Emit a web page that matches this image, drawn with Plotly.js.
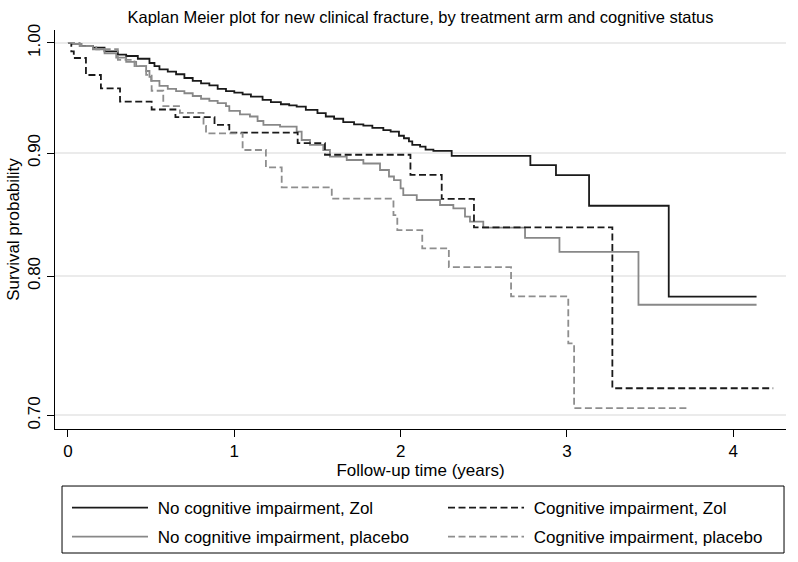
<!DOCTYPE html>
<html>
<head>
<meta charset="utf-8">
<script src="https://cdn.plot.ly/plotly-3.0.1.min.js"></script>
<style>
  body { margin: 0; background: #fff; }
  #kmPlot { width: 798px; height: 562px; }
</style>
</head>
<body>
<div id="kmPlot"></div>
<script>
// No cognitive impairment, Zol
var tNoCiZol = [0, 0.03, 0.08, 0.15, 0.22, 0.30, 0.35, 0.42, 0.49, 0.52, 0.55, 0.60, 0.65, 0.70, 0.75, 0.80, 0.85, 0.90, 0.95,
  1.00, 1.05, 1.10, 1.17, 1.22, 1.28, 1.33, 1.375, 1.43, 1.50, 1.55, 1.60, 1.655, 1.72, 1.776, 1.83, 1.896, 1.94, 1.99,
  2.02, 2.05, 2.07, 2.117, 2.15, 2.197, 2.307, 2.78, 2.934, 3.133, 3.612, 4.14];
var sNoCiZol = [1.000, 0.999, 0.997, 0.9955, 0.992, 0.989, 0.9876, 0.985, 0.981, 0.978, 0.975, 0.973, 0.9705, 0.967, 0.9643, 0.962, 0.9603, 0.957, 0.955,
  0.9535, 0.952, 0.950, 0.947, 0.945, 0.943, 0.942, 0.9408, 0.938, 0.935, 0.932, 0.930, 0.927, 0.925, 0.924, 0.922, 0.920, 0.9186, 0.915,
  0.9128, 0.910, 0.907, 0.9055, 0.903, 0.9019, 0.8975, 0.8897, 0.8812, 0.8557, 0.7844, 0.7844];

// No cognitive impairment, placebo
var tNoCiPla = [0, 0.03, 0.08, 0.15, 0.22, 0.29, 0.35, 0.41, 0.47, 0.49, 0.50, 0.55, 0.60, 0.65, 0.70, 0.75, 0.80, 0.85, 0.90, 0.95,
  0.97, 1.034, 1.094, 1.14, 1.175, 1.275, 1.375, 1.405, 1.455, 1.535, 1.575, 1.676, 1.776, 1.876, 1.93, 1.96, 2.00,
  2.016, 2.097, 2.237, 2.317, 2.387, 2.417, 2.497, 2.748, 2.955, 3.43, 4.14];
var sNoCiPla = [1.000, 0.999, 0.997, 0.994, 0.990, 0.986, 0.982, 0.978, 0.9735, 0.968, 0.9643, 0.9597, 0.957, 0.955, 0.953, 0.9505, 0.948, 0.946, 0.944, 0.9414,
  0.937, 0.934, 0.932, 0.928, 0.9245, 0.923, 0.9186, 0.9113, 0.907, 0.9026, 0.8969, 0.894, 0.891, 0.8855, 0.880, 0.877, 0.870,
  0.8645, 0.8604, 0.8563, 0.8536, 0.8468, 0.8427, 0.838, 0.8297, 0.8187, 0.7783, 0.7783];

// Cognitive impairment, Zol
var tCiZol = [0, 0.02, 0.035, 0.108, 0.198, 0.313, 0.503, 0.646, 0.881, 0.970, 1.381, 1.545, 2.059, 2.247, 2.441, 3.273, 4.24];
var sCiZol = [1.000, 0.992, 0.9857, 0.9698, 0.9575, 0.9453, 0.9383, 0.9314, 0.9245, 0.9177, 0.9085, 0.8985, 0.8813, 0.8614, 0.8381, 0.7185, 0.7185];

// Cognitive impairment, placebo
var tCiPla = [0, 0.07, 0.17, 0.30, 0.40, 0.47, 0.503, 0.573, 0.673, 0.815, 0.83, 1.05, 1.19, 1.285, 1.586, 1.957, 1.98,
  2.13, 2.29, 2.664, 3.008, 3.043, 3.72];
var sCiPla = [1.000, 0.997, 0.994, 0.984, 0.978, 0.970, 0.9553, 0.9414, 0.9352, 0.9236, 0.917, 0.9026, 0.8877, 0.8709, 0.8615, 0.848, 0.836,
  0.8215, 0.8069, 0.7846, 0.7500, 0.705, 0.705];

var yTicks = [0.70, 0.80, 0.90, 1.00];
var yTickText = ['0.70', '0.80', '0.90', '1.00'];
var xTicks = [0, 1, 2, 3, 4];

var fnt = 'Liberation Sans, Arial, Helvetica, sans-serif';
var dashPat = '7px,3.5px';
var pad = '\u00a0';   // small gap between legend line and its label

// left legend column = no impairment, right column = impairment
var trace1 = {
  x: tNoCiZol, y: sNoCiZol, type: 'scatter', mode: 'lines',
  name: pad + 'No cognitive impairment, Zol',
  legend: 'legend', legendgroup: 'a', legendrank: 1,
  line: {shape: 'hv', color: '#1a1a1a', width: 1.8}
};
var trace3 = {
  x: tNoCiPla, y: sNoCiPla, type: 'scatter', mode: 'lines',
  name: pad + 'No cognitive impairment, placebo',
  legend: 'legend', legendgroup: 'b', legendrank: 2,
  line: {shape: 'hv', color: '#888888', width: 1.8}
};
var trace2 = {
  x: tCiZol, y: sCiZol, type: 'scatter', mode: 'lines',
  name: pad + 'Cognitive impairment, Zol',
  legend: 'legend2', legendgroup: 'c', legendrank: 1,
  line: {shape: 'hv', color: '#1a1a1a', width: 1.8, dash: dashPat}
};
var trace4 = {
  x: tCiPla, y: sCiPla, type: 'scatter', mode: 'lines',
  name: pad + 'Cognitive impairment, placebo',
  legend: 'legend2', legendgroup: 'd', legendrank: 2,
  line: {shape: 'hv', color: '#8e8e8e', width: 1.8, dash: dashPat}
};

var data = [trace1, trace3, trace2, trace4];

var legendBase = {
  orientation: 'v',
  traceorder: 'grouped',
  tracegroupgap: 4,
  itemwidth: 76,
  yref: 'container',
  y: 0.1281, yanchor: 'top',
  xanchor: 'left',
  bgcolor: 'rgba(0,0,0,0)',
  borderwidth: 0,
  font: {family: fnt, size: 17, color: '#000'}
};

var layout = {
  width: 798,
  height: 562,
  margin: {l: 55, r: 12, t: 30, b: 133},
  paper_bgcolor: '#fff',
  plot_bgcolor: '#fff',
  font: {family: fnt, size: 17, color: '#000'},
  title: {
    text: 'Kaplan Meier plot for new clinical fracture, by treatment arm and cognitive status',
    font: {family: fnt, size: 16.5, color: '#000'},
    x: 0.5, xref: 'paper', y: 0.97, yref: 'container', yanchor: 'middle'
  },
  xaxis: {
    range: [-0.078, 4.317],
    tickvals: xTicks,
    ticks: 'outside', ticklen: 7, tickwidth: 1, tickcolor: '#000',
    showline: true, linecolor: '#000', linewidth: 1,
    showgrid: false, zeroline: false,
    tickfont: {size: 17},
    title: {text: 'Follow-up time (years)', font: {size: 17}, standoff: 0}
  },
  yaxis: {
    type: 'log',
    range: [Math.log10(0.691), Math.log10(1.0125)],
    tickvals: yTicks,
    ticktext: yTickText,
    tickangle: -90,
    ticks: 'outside', ticklen: 7, tickwidth: 1, tickcolor: '#000',
    showline: true, linecolor: '#000', linewidth: 1,
    showgrid: true, gridcolor: '#ebebeb', gridwidth: 1.5,
    zeroline: false,
    tickfont: {size: 17},
    title: {text: 'Survival probability', font: {size: 17}, standoff: 1}
  },
  showlegend: true,
  legend: Object.assign({}, legendBase, {x: 0.0164}),
  legend2: Object.assign({}, legendBase, {x: 0.5308}),
  shapes: [{
    type: 'rect', xref: 'paper', yref: 'paper',
    x0: 0.0096, x1: 0.9973, y0: -0.3108, y1: -0.1429,
    line: {color: '#000', width: 1}, fillcolor: 'rgba(0,0,0,0)'
  }]
};

Plotly.newPlot('kmPlot', data, layout, {displayModeBar: false});
</script>
</body>
</html>
